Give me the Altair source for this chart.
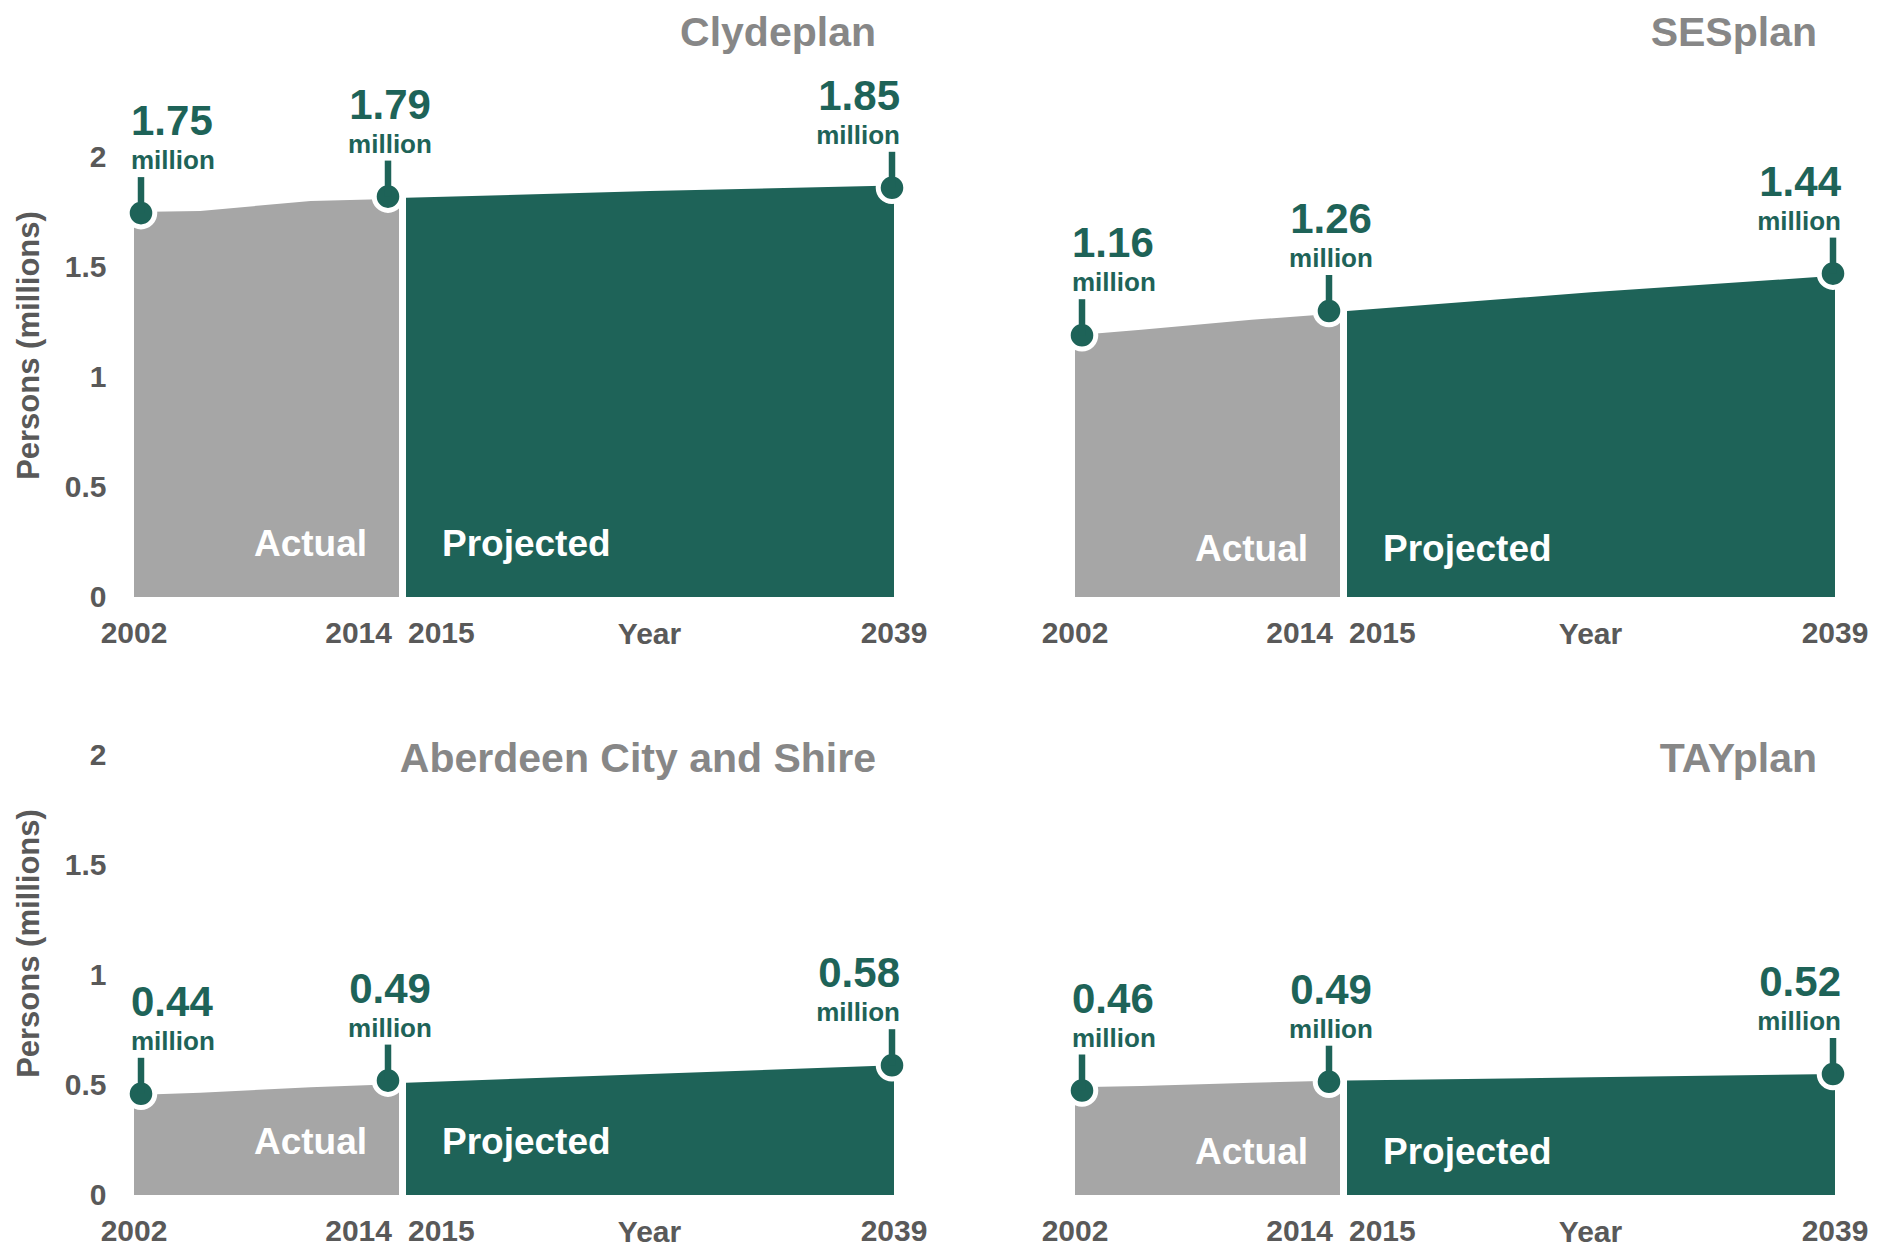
import altair as alt
import pandas as pd

# ---------------- data ----------------
regions = ["Clydeplan", "SESplan", "Aberdeen City and Shire", "TAYplan"]

actual_years = [2002, 2005, 2010, 2014]
projected_years = [2015, 2027, 2039]

actual_values = {
    "Clydeplan": [1.75, 1.755, 1.80, 1.81],
    "SESplan": [1.19, 1.215, 1.26, 1.29],
    "Aberdeen City and Shire": [0.455, 0.465, 0.49, 0.505],
    "TAYplan": [0.49, 0.495, 0.51, 0.52],
}
projected_values = {
    "Clydeplan": [1.815, 1.845, 1.87],
    "SESplan": [1.30, 1.385, 1.46],
    "Aberdeen City and Shire": [0.51, 0.55, 0.59],
    "TAYplan": [0.52, 0.535, 0.55],
}

marker_years = [2002, 2014, 2039]
marker_values = {
    "Clydeplan": [1.745, 1.82, 1.86],
    "SESplan": [1.19, 1.30, 1.47],
    "Aberdeen City and Shire": [0.46, 0.52, 0.59],
    "TAYplan": [0.475, 0.515, 0.55],
}
marker_labels = {
    "Clydeplan": ["1.75", "1.79", "1.85"],
    "SESplan": ["1.16", "1.26", "1.44"],
    "Aberdeen City and Shire": ["0.44", "0.49", "0.58"],
    "TAYplan": ["0.46", "0.49", "0.52"],
}
marker_anchor = ["left", "center", "right"]

x_tick_years = [2002, 2014, 2015, 2039]
x_tick_align = ["center", "right", "left", "center"]
y_tick_values = [0, 0.5, 1, 1.5, 2]

period_years = [2014, 2015]
period_names = ["Actual", "Projected"]

# ---------------- tables ----------------
rows = []
for r in regions:
    for yr, v in zip(actual_years, actual_values[r]):
        rows.append({"region": r, "kind": "Actual", "year": yr, "value": v})
    for yr, v in zip(projected_years, projected_values[r]):
        rows.append({"region": r, "kind": "Projected", "year": yr, "value": v})
series = pd.DataFrame(rows)

prow = []
for r in regions:
    for yr, v, lab, a in zip(marker_years, marker_values[r], marker_labels[r], marker_anchor):
        prow.append({"region": r, "year": yr, "value": v, "label": lab, "anchor": a})
points = pd.DataFrame(prow)

ticks = pd.DataFrame({"year": x_tick_years, "lab": [str(y) for y in x_tick_years], "align": x_tick_align})
periods = pd.DataFrame({"year": period_years, "name": period_names})

# ---------------- style ----------------
W, H = 760, 528
GREEN = "#1E6358"
AREA_GRAY = "#A6A6A6"
TICK = "#595959"
TITLE_GRAY = "#878787"
FONT = "Liberation Sans"

xscale = alt.Scale(domain=[2002, 2014, 2015, 2039], range=[0, 265, 272, W], nice=False, zero=False)
yscale = alt.Scale(domain=[0, 2.4], nice=False, zero=False)

# per-anchor placement: marker x offset, label dx relative to marker
anchor_cfg = [("left", 7, -10), ("center", -11, 2), ("right", -2, 8)]


def panel(region, show_y, top, period_lift):
    xaxis = alt.Axis(labels=False, ticks=False, domain=False, grid=False, title="Year",
                     titleX=515, titleY=37, titleBaseline="middle", titleFont=FONT,
                     titleFontSize=30, titleFontWeight="bold", titleColor=TICK)
    if show_y:
        yaxis = alt.Axis(values=y_tick_values, format="~g", labelFont=FONT, labelFontSize=30,
                         labelFontWeight="bold", labelColor=TICK, labelPadding=28,
                         ticks=False, tickSize=0, domain=False, grid=False,
                         title="Persons (millions)", titleFont=FONT, titleFontSize=31,
                         titleFontWeight="bold", titleColor=TICK, titleX=-105, titleY=276,
                         titleBaseline="middle")
    else:
        yaxis = None
    X = alt.X("year:Q", scale=xscale, axis=xaxis)
    Y = alt.Y("value:Q", scale=yscale, axis=yaxis)

    s = alt.Chart(series[series.region == region])
    p = alt.Chart(points[points.region == region])

    layers = []
    layers.append(s.transform_filter(alt.datum.kind == "Actual")
                  .mark_area(color=AREA_GRAY, opacity=1).encode(x=X, y=Y))
    layers.append(s.transform_filter(alt.datum.kind == "Projected")
                  .mark_area(color=GREEN, opacity=1).encode(x=X, y=Y))
    for anchor, off, ldx in anchor_cfg:
        pf = p.transform_filter(alt.datum.anchor == anchor)
        layers.append(pf.mark_circle(fill=GREEN, stroke="white", strokeWidth=5, size=760,
                                     opacity=1, xOffset=off)
                      .encode(x=X, y=Y))
        layers.append(pf.mark_rule(color=GREEN, strokeWidth=6.5, strokeCap="butt",
                                   xOffset=off, y2Offset=-36)
                      .encode(x=X, y=Y, y2=alt.Y2("value:Q")))
        layers.append(pf.mark_text(align=anchor, baseline="alphabetic", dx=off + ldx, dy=-78,
                                   font=FONT, fontSize=42, fontWeight="bold", color=GREEN)
                      .encode(x=X, y=Y, text="label:N"))
        layers.append(pf.mark_text(align=anchor, baseline="alphabetic", dx=off + ldx, dy=-44,
                                   font=FONT, fontSize=26, fontWeight="bold", color=GREEN)
                      .encode(x=X, y=Y, text=alt.value("million")))
    tk = alt.Chart(ticks)
    for al, dx in [("center", 0), ("right", -7), ("left", 2)]:
        layers.append(tk.transform_filter(alt.datum.align == al)
                      .mark_text(align=al, baseline="middle", dx=dx, font=FONT, fontSize=30,
                                 fontWeight="bold", color=TICK)
                      .encode(x=X, y=alt.value(H + 37), text="lab:N"))
    pr = alt.Chart(periods)
    for nm, al, dx in [("Actual", "right", -32), ("Projected", "left", 36)]:
        layers.append(pr.transform_filter(alt.datum.name == nm)
                      .mark_text(align=al, baseline="alphabetic", dx=dx, font=FONT, fontSize=37,
                                 fontWeight="bold", color="white")
                      .encode(x=X, y=alt.value(H - period_lift), text="name:N"))
    tt = alt.Chart(pd.DataFrame({"t": [region]}))
    layers.append(tt.mark_text(align="right", baseline="middle", font=FONT, fontSize=41,
                               fontWeight="bold", color=TITLE_GRAY)
                  .encode(x=alt.value(W - 18), y=alt.value(-35 if top else 93), text="t:N"))
    return alt.layer(*layers).properties(width=W, height=H)


chart = (alt.concat(panel(regions[0], True, True, 41), panel(regions[1], False, True, 36),
                    panel(regions[2], True, False, 41), panel(regions[3], False, False, 31),
                    columns=2, spacing={"row": 70, "column": 181}, bounds="flush")
         .properties(background="white")
         .configure_view(stroke=None, strokeWidth=0)
         .configure_axis(grid=False))

chart.save("out.html", embed_options={"renderer": "svg", "actions": False})
